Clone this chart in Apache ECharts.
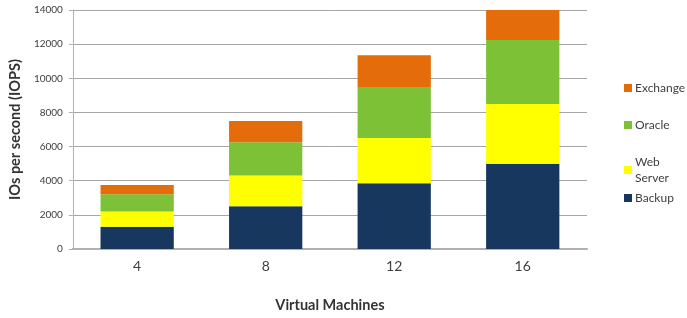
<!DOCTYPE html>
<html>
<head>
<meta charset="utf-8">
<script src="https://cdn.jsdelivr.net/npm/echarts@6/dist/echarts.min.js"></script>
<style>
  html, body { margin: 0; padding: 0; background: #fff; }
  #chart { width: 687px; height: 318px; }
</style>
</head>
<body>
<div id="chart"></div>
<script>
const categories = ["4", "8", "12", "16"];
const backup = [1300, 2500, 3850, 5000];
const webServer = [900, 1800, 2650, 3500];
const oracle = [1000, 1950, 2950, 3750];
const exchange = [550, 1250, 1900, 1750];
const yTicks = [0, 2000, 4000, 6000, 8000, 10000, 12000, 14000];

const font = "Lato, 'Open Sans', sans-serif";
const chart = echarts.init(document.getElementById("chart"));

function legendFor(name, top) {
  return {
    data: [name],
    left: 619,
    top: top,
    orient: "vertical",
    icon: "rect",
    itemWidth: 8,
    itemHeight: 8,
    selectedMode: false,
    formatter: function (n) { return n === "Web Server" ? "Web\nServer" : n; },
    textStyle: { fontFamily: font, fontSize: 12, color: "#404040", lineHeight: 16, padding: [0, 0, 0, -2] }
  };
}

const option = {
  animation: false,
  textStyle: { fontFamily: font },
  grid: { left: 70, right: 100, top: 10, bottom: 65 },
  legend: [
    legendFor("Exchange", 75),
    legendFor("Oracle", 112),
    legendFor("Web Server", 149),
    legendFor("Backup", 185)
  ],
  xAxis: {
    type: "category",
    data: categories,
    name: "Virtual Machines",
    nameLocation: "middle",
    nameGap: 49,
    nameTextStyle: { fontFamily: font, fontSize: 14.5, fontWeight: "bold", color: "#333" },
    axisLine: { lineStyle: { color: "#b0b0b0", width: 2 } },
    axisTick: { show: false },
    axisLabel: { fontFamily: font, fontSize: 14, color: "#404040", margin: 10 }
  },
  yAxis: {
    type: "value",
    min: 0,
    max: 14000,
    interval: 2000,
    name: "IOs per second (IOPS)",
    nameLocation: "middle",
    nameGap: 48,
    nameTextStyle: { fontFamily: font, fontSize: 14.5, fontWeight: "bold", color: "#333" },
    axisLine: { show: true, lineStyle: { color: "#b0b0b0" } },
    axisTick: { show: true, length: 4, lineStyle: { color: "#b0b0b0" } },
    splitLine: { lineStyle: { color: "#a6a6a6", width: 1 } },
    axisLabel: {
      fontFamily: font, fontSize: 10, color: "#404040", margin: 10,
      formatter: function (v) { return yTicks.indexOf(v) >= 0 ? String(v) : ""; }
    }
  },
  series: [
    { name: "Backup", type: "bar", stack: "io", data: backup, barWidth: "57%", itemStyle: { color: "#17375E" } },
    { name: "Web Server", type: "bar", stack: "io", data: webServer, itemStyle: { color: "#FFFF00" } },
    { name: "Oracle", type: "bar", stack: "io", data: oracle, itemStyle: { color: "#7DC136" } },
    { name: "Exchange", type: "bar", stack: "io", data: exchange, itemStyle: { color: "#E46C0A" } }
  ]
};
chart.setOption(option);
</script>
</body>
</html>
